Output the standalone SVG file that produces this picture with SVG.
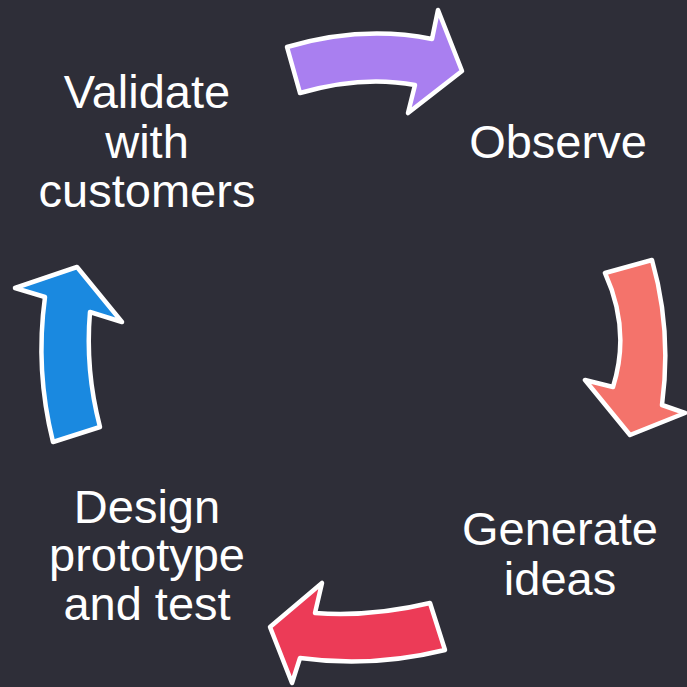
<svg xmlns="http://www.w3.org/2000/svg" width="687" height="687" viewBox="0 0 687 687">
  <style>
    .arrow { stroke: #ffffff; stroke-width: 4.5; stroke-linejoin: round; }
    .label { font-family: "Liberation Sans", Arial, sans-serif; font-size: 47px; fill: #ffffff; text-anchor: middle; }
  </style>
  <rect width="687" height="687" fill="#2e2e38"/>

  <!-- curved arrows of the cycle -->
  <g id="connectors">
    <path class="arrow" fill="#a97ff0" d="M287,47 Q362,25 432,39 L438,10 L462,71 L408,113 L415,85 Q362,75 300,93 Z"/>
    <path class="arrow" fill="#f4736b" d="M605,273 L652,260 Q672,330 662,405 L685,413 L630,435 L585,380 L613,387 Q631,330 605,273 Z"/>
    <path class="arrow" fill="#ec3b57" d="M430,603 L445,650 Q372,668 300,658 L292,683 L270,627 L322,583 L315,613 Q372,617 430,603 Z"/>
    <path class="arrow" fill="#1a89e0" d="M53,442 L100,427 Q85,370 90,312 L122,322 L77,267 L15,288 L45,297 Q35,370 53,442 Z"/>
  </g>

  <g id="validate">
    <text class="label" x="147" y="108">Validate</text>
    <text class="label" x="147" y="158">with</text>
    <text class="label" x="147" y="207">customers</text>
  </g>
  <g id="observe">
    <text class="label" x="558" y="158">Observe</text>
  </g>
  <g id="generate">
    <text class="label" x="560" y="545">Generate</text>
    <text class="label" x="560" y="595">ideas</text>
  </g>
  <g id="design">
    <text class="label" x="147" y="523">Design</text>
    <text class="label" x="147" y="571">prototype</text>
    <text class="label" x="147" y="620">and test</text>
  </g>
</svg>
